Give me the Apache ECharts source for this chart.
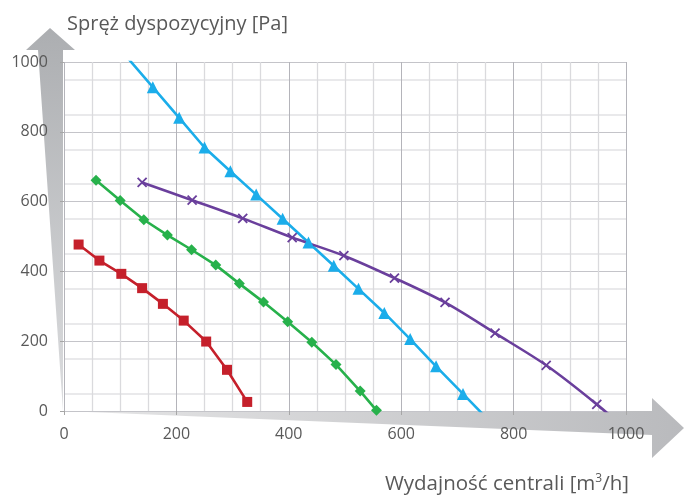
<!DOCTYPE html>
<html>
<head>
<meta charset="utf-8">
<script src="https://cdn.jsdelivr.net/npm/echarts@6/dist/echarts.min.js"></script>
<style>html,body{margin:0;padding:0;background:#fff}#c{width:684px;height:497px}</style>
</head>
<body>
<div id="c"></div>
<script>
// ---- data ----
var redX = [26, 63, 102, 139, 176, 213, 253, 290, 326];
var redY = [477, 431, 393, 352, 307, 259, 199, 118, 26];

var greenX = [57, 100, 142, 184, 227, 270, 312, 355, 398, 441, 484, 527, 556];
var greenY = [661, 603, 548, 504, 462, 418, 365, 312, 256, 197, 133, 57, 2];

var blueX = [112, 158, 205, 250, 296, 342, 389, 435, 480, 524, 570, 616, 662, 710, 756];
var blueY = [1014, 928, 840, 755, 687, 620, 551, 483, 416, 350, 281, 206, 128, 49, -27];

var purpleX = [139, 228, 318, 406, 498, 588, 678, 767, 858, 948, 1038];
var purpleY = [655, 604, 552, 497, 445, 381, 311, 223, 131, 19, -105];

var xTicks = [0, 200, 400, 600, 800, 1000];
var yTicks = [0, 200, 400, 600, 800, 1000];

var yTitle = 'Spręż dyspozycyjny [Pa]';
var xTitleMain = 'Wydajność centrali [m';
var xTitleSup = '3';
var xTitleEnd = '/h]';

function zip(xs, ys) { return xs.map(function (x, i) { return [x, ys[i]]; }); }

var FONT = '"Open Sans", sans-serif';
var TXT = '#595959';

var chart = echarts.init(document.getElementById('c'), null, { renderer: 'canvas' });

function lineSeries(name, xs, ys, color, symbol, size, extra) {
  var s = {
    name: name,
    type: 'line',
    data: zip(xs, ys),
    clip: true,
    symbol: symbol,
    symbolSize: size,
    showSymbol: true,
    lineStyle: { color: color, width: 2.6 },
    itemStyle: { color: color, borderColor: color, borderWidth: 0 },
    z: 5,
    animation: false
  };
  for (var k in extra) s[k] = extra[k];
  return s;
}

function plain(v) { return String(v); }

var option = {
  animation: false,
  backgroundColor: '#ffffff',
  title: [
    {
      text: yTitle,
      left: 62, top: 9,
      textStyle: { fontFamily: FONT, fontSize: 20, fontWeight: 'normal', color: TXT }
    },
    {
      text: '{a|' + xTitleMain + '}{s|' + xTitleSup + '}{a|' + xTitleEnd + '}',
      right: 50, top: 468,
      textStyle: {
        fontWeight: 'normal',
        rich: {
          a: { fontFamily: FONT, fontSize: 20.5, fontWeight: 'normal', color: TXT, verticalAlign: 'bottom' },
          s: { fontFamily: FONT, fontSize: 12, fontWeight: 'normal', color: TXT, verticalAlign: 'top', padding: [0, 0, 10, 0] }
        }
      }
    }
  ],
  graphic: {
    elements: [
      {
        type: 'polygon', z: -10, silent: true,
        shape: { points: [[50, 28], [75, 50], [63, 50], [63, 411], [38, 50], [26, 50]] },
        style: {
          fill: new echarts.graphic.LinearGradient(0, 0, 0, 1, [
            { offset: 0, color: '#acaeb1' }, { offset: 1, color: '#dcdddf' }
          ])
        }
      },
      {
        type: 'polygon', z: -10, silent: true,
        shape: { points: [[63, 411], [652, 411], [652, 398], [684, 428], [652, 458], [652, 435]] },
        style: {
          fill: new echarts.graphic.LinearGradient(0, 0, 1, 0, [
            { offset: 0, color: '#e6e6e7' }, { offset: 1, color: '#b9babd' }
          ])
        }
      }
    ]
  },
  grid: { left: 64, right: 58, top: 62, bottom: 86, containLabel: false },
  xAxis: {
    type: 'value', min: 0, max: 1000, interval: 200, z: 3,
    axisLine: { show: false },
    axisTick: { show: true, length: 4, lineStyle: { color: '#a6a6a6' } },
    axisLabel: {
      fontFamily: FONT, fontSize: 16, color: TXT, margin: 15,
      customValues: xTicks, formatter: plain
    },
    splitLine: { show: true, lineStyle: { color: '#b4b4ba', width: 1 } },
    minorTick: { show: false, splitNumber: 4 },
    minorSplitLine: { show: true, lineStyle: { color: '#dadadd', width: 1.3 } }
  },
  yAxis: {
    type: 'value', min: 0, max: 1000, interval: 100, z: 3,
    axisLine: { show: false },
    axisTick: { show: true, length: 4, lineStyle: { color: '#a6a6a6' },
      customValues: yTicks },
    axisLabel: {
      fontFamily: FONT, fontSize: 16, color: TXT, margin: 16,
      customValues: yTicks, formatter: plain
    },
    splitLine: { show: true, lineStyle: { color: '#c4c4c9', width: 1 } },
    minorTick: { show: false, splitNumber: 2 },
    minorSplitLine: { show: true, lineStyle: { color: '#e2e2e4', width: 1.6 } }
  },
  series: [
    lineSeries('red', redX, redY, '#c5202b', 'rect', 10, {}),
    lineSeries('green', greenX, greenY, '#27b14b', 'diamond', 11, {}),
    lineSeries('blue', blueX, blueY, '#1badea', 'triangle', 12, {}),
    lineSeries('purple', purpleX, purpleY, '#6a3f9c', 'path://M0,0L10,10M10,0L0,10', 9,
      { smooth: 0.3, itemStyle: { color: '#6a3f9c', borderColor: '#6a3f9c', borderWidth: 1.8 } })
  ]
};
chart.setOption(option);
</script>
</body>
</html>
